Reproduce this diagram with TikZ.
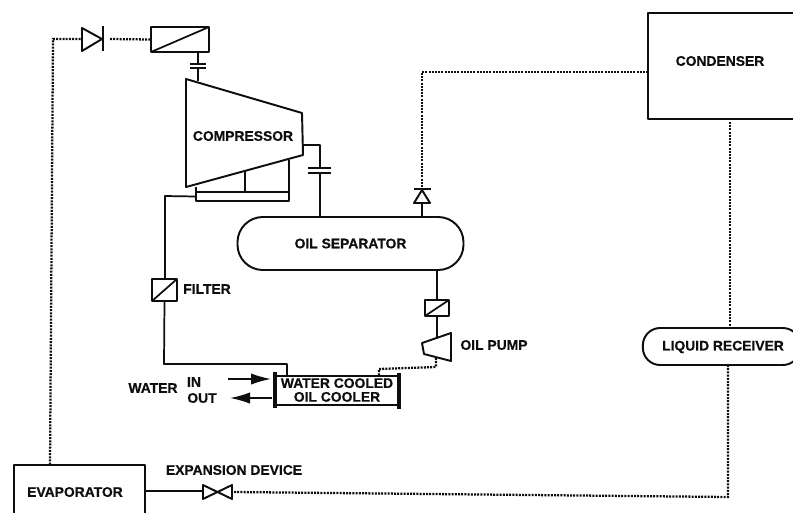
\documentclass[tikz,border=0pt]{standalone}
\usepackage{fontspec}
\setmainfont[BoldFeatures={FakeBold=0.5}]{Liberation Sans}
\usetikzlibrary{arrows.meta}
\definecolor{ink}{HTML}{0E0E0E}
\tikzset{
  pipe/.style={draw=ink,line width=1.3pt,line join=round},
  dotline/.style={draw=ink,line width=1.7pt,dash pattern=on 1.5pt off 0.9pt},
  part/.style={draw=ink,line width=1.45pt,line join=round,inner sep=0pt,outer sep=0pt,fill=white},
  vessel/.style={part,font=\lab},
  lbl/.style={font=\lab,text=ink,inner sep=0pt,outer sep=0pt,align=center},
  flow/.style={draw=ink,line width=1.2pt,-{Latex[length=15pt,width=8.5pt]}}
}
\newcommand{\lab}{\fontsize{10.4}{10.6}\selectfont\bfseries}
\begin{document}
\begin{tikzpicture}[x=0.75pt,y=-0.75pt]
\clip (0,0) rectangle (793,512);
\useasboundingbox (0,0) rectangle (793,512);
\fill[white] (0,0) rectangle (793,512);

% ---- vessels and boxes
\node[vessel,minimum width=123pt,minimum height=79pt,text=ink] (condenser) at (730,66) {};
\node[lbl] (condlabel) at (720,61) {CONDENSER};
\node[vessel,minimum width=98pt,minimum height=50pt] (evap) at (79.5,498) {};
\node[lbl] (evaplabel) at (75,492) {EVAPORATOR};
\node[vessel,rounded corners=19pt,minimum width=169.5pt,minimum height=39.75pt,text=ink] (sep) at (350.5,243.5) {OIL SEPARATOR};
\node[vessel,rounded corners=13pt,minimum width=118pt,minimum height=27.75pt] (recv) at (721.5,346.5) {};
\node[lbl] (recvlabel) at (723,347) {LIQUID RECEIVER};
\node[part,minimum width=43.5pt,minimum height=18.75pt] (sol) at (180,39.5) {};
\draw[pipe] (sol.south west) -- (sol.north east);
\node[part,minimum width=18.75pt,minimum height=16.5pt] (filter) at (164.5,290) {};
\draw[pipe] (filter.south west) -- (filter.north east);
\node[part,minimum width=18pt,minimum height=12pt] (filter2) at (437,308) {};
\draw[pipe] (filter2.south west) -- (filter2.north east);
\node[part,minimum width=93pt,minimum height=21.75pt] (cooler) at (337,390.5) {};
\node[lbl] (coollabel) at (337,390) {WATER COOLED\\[-0.3pt]OIL COOLER};
\draw[draw=ink,line width=3pt] (275,372) -- (275,408) (399,373) -- (399,409);
\node[part,minimum width=69.75pt,minimum height=6.75pt] (manifold) at (242.5,196.5) {};

% ---- compressor and oil pump
\coordinate (cA) at (186,79);
\coordinate (cB) at (302,113);
\coordinate (cC) at (303,155);
\coordinate (cD) at (186,187);
\draw[part] (cA) -- (cB) -- (cC) -- (cD) -- cycle;
\node[lbl] (complabel) at (243,136) {COMPRESSOR};
\coordinate (pA) at (451,333);
\coordinate (pB) at (451,361);
\coordinate (pC) at (424,354);
\coordinate (pD) at (422,343);
\draw[part] (pA) -- (pB) -- (pC) -- (pD) -- cycle;

% ---- check valves and expansion valve
\coordinate (d1a) at (82,28);
\coordinate (d1b) at (82,51);
\coordinate (d1c) at (102,39);
\draw[part] (d1a) -- (d1b) -- (d1c) -- cycle;
\draw[pipe] (103,26) -- (103,51);
\coordinate (d2a) at (414,203);
\coordinate (d2b) at (430,203);
\coordinate (d2c) at (422,190);
\draw[part] (d2a) -- (d2b) -- (d2c) -- cycle;
\draw[pipe] (414,189) -- (431,189);
\coordinate (vA) at (203,485);
\coordinate (vB) at (203,499);
\coordinate (vC) at (232,485);
\coordinate (vD) at (232,499);
\draw[part] (vA) -- (vD) -- (vC) -- (vB) -- cycle;

% ---- solid connectors
\coordinate (shaftTop) at (198,81);
\draw[pipe] (sol.south -| shaftTop) -- (198,64) (198,68) -- (shaftTop);
\draw[pipe] (190,64) -- (206,64) (190,68) -- (206,68);
\coordinate (disc) at (320,145);
\draw[pipe] (disc -| cC) -- (disc) -- (320,168) (320,173) -- (sep.north -| disc);
\draw[pipe] (308,168) -- (331,168) (308,173) -- (331,173);
\draw[pipe] (196,187) -- (manifold.north west);
\draw[pipe] (245,171) -- (manifold.north -| 245,0);
\draw[pipe] (289,160) -- (manifold.north east);
\draw[pipe] (manifold.west) -- (165,196) -- (filter.north -| 165,0);
\draw[pipe] (filter.south) -- (164,364) -- (287,364) -- (cooler.north -| 287,0);
\draw[pipe] (sep.south -| filter2.north) -- (filter2.north);
\draw[pipe] (filter2.south) -- (437,338);
\draw[pipe] (d2a -| d2c) -- (sep.north -| d2c);
\draw[pipe] (evap.east |- vA) ++(0,6) -- (203,491);

% ---- dotted connectors
\draw[dotline] (evap.north -| 50,0) -- (53,39) -- (81,39);
\draw[dotline] (110,39) -- (sol.west);
\draw[dotline] (d2c |- 0,187) -- (422,72) -- (condenser.west |- 0,72);
\draw[dotline] (730,122) -- (recv.north -| 730,0);
\draw[dotline] (recv.south -| 728,0) -- (728,497) -- (234,492);
\draw[dotline] (436,358) -- (436,367) -- (379,369) -- (cooler.north -| 379,0);

% ---- water arrows
\coordinate (inS) at (228,379);
\coordinate (outE) at (230,398);
\draw[flow] (inS) -- (271,379);
\draw[flow] (272,398) -- (outE);

% ---- labels
\node[lbl] (lfilter) at (207,289) {FILTER};
\node[lbl] (lpump) at (494,345) {OIL PUMP};
\node[lbl] (lwater) at (153,388) {WATER};
\node[lbl] (lin) at (194,382) {IN};
\node[lbl] (lout) at (202,398) {OUT};
\node[lbl] (lexp) at (234,470) {EXPANSION DEVICE};
\end{tikzpicture}
\end{document}
